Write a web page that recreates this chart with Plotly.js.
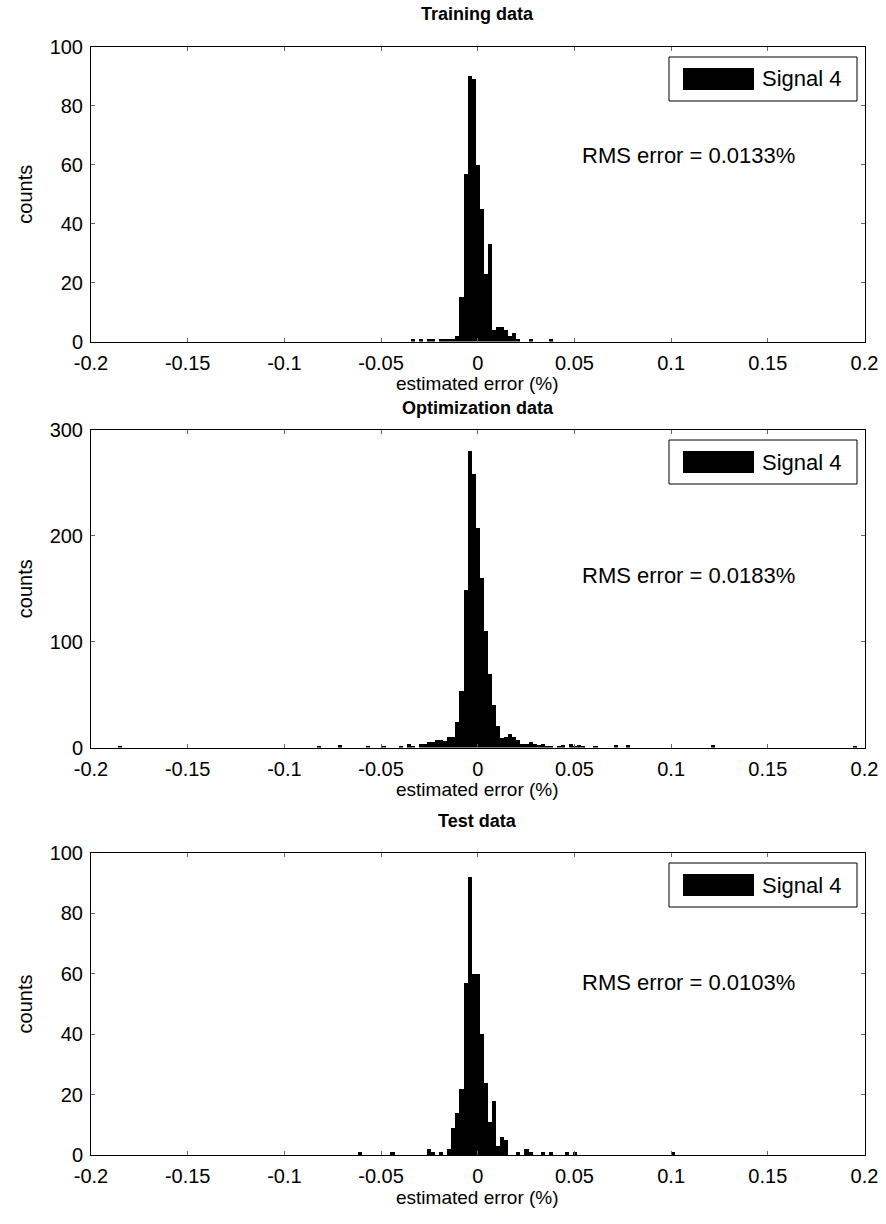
<!DOCTYPE html>
<html>
<head>
<meta charset="utf-8">
<script src="https://cdn.plot.ly/plotly-3.0.1.min.js"></script>
<style>html,body{margin:0;padding:0;background:#fff;}#chart{width:886px;height:1224px;}</style>
</head>
<body>
<div id="chart"></div>
<script>
// ---- data ----
const panelTitles = ["Training data", "Optimization data", "Test data"];
const rmsTexts = ["RMS error = 0.0133%", "RMS error = 0.0183%", "RMS error = 0.0103%"];
const seriesName = "Signal 4";
const xTitle = "estimated error (%)";
const yTitle = "counts";

const xTickVals = [-0.2, -0.15, -0.1, -0.05, 0, 0.05, 0.1, 0.15, 0.2];
const xTickText = ["-0.2", "-0.15", "-0.1", "-0.05", "0", "0.05", "0.1", "0.15", "0.2"];
const yTickVals1 = [0, 20, 40, 60, 80, 100];
const yTickVals2 = [0, 100, 200, 300];
const yTickVals3 = [0, 20, 40, 60, 80, 100];

// Training data histogram: bin centres (%) and counts
const trainCenters = [-0.0336, -0.0294, -0.0252, -0.0231, -0.0189, -0.0168, -0.0147, -0.0126, -0.0105,
  -0.0084, -0.0063, -0.0042, -0.0021, 0.0, 0.0021, 0.0042, 0.0063, 0.0084, 0.0105, 0.0126, 0.0147,
  0.0168, 0.0189, 0.0210, 0.0273, 0.0378];
const trainCounts = [1, 1, 1, 1, 1, 1, 1, 1, 2,
  15, 57, 90, 89, 60, 45, 23, 33, 4, 5, 5, 4,
  2, 3, 1, 1, 1];

// Optimization data histogram
const optCenters = [-0.1848, -0.0819, -0.0714, -0.0567, -0.0483, -0.0399, -0.0357, -0.0336, -0.0294, -0.0273,
  -0.0252, -0.0231, -0.0210, -0.0189, -0.0168, -0.0147, -0.0126, -0.0105, -0.0084, -0.0063, -0.0042,
  -0.0021, 0.0, 0.0021, 0.0042, 0.0063, 0.0084, 0.0105, 0.0126, 0.0147, 0.0168, 0.0189, 0.0210,
  0.0231, 0.0252, 0.0273, 0.0294, 0.0315, 0.0336, 0.0357, 0.0378, 0.0420, 0.0441, 0.0483, 0.0504,
  0.0525, 0.0546, 0.0609, 0.0714, 0.0777, 0.1218, 0.1953];
const optCounts = [1, 1, 2, 1, 1, 1, 3, 1, 3, 3,
  5, 5, 7, 7, 6, 10, 10, 24, 53, 149, 280,
  258, 207, 160, 110, 69, 40, 20, 9, 10, 13, 10, 7,
  3, 3, 5, 3, 2, 3, 1, 1, 1, 2, 3, 1,
  2, 1, 1, 2, 2, 2, 1];

// Test data histogram
const testCenters = [-0.0609, -0.0441, -0.0252, -0.0231, -0.0189, -0.0147, -0.0126, -0.0105, -0.0084,
  -0.0063, -0.0042, -0.0021, 0.0, 0.0021, 0.0042, 0.0063, 0.0084, 0.0105, 0.0126, 0.0147,
  0.0210, 0.0252, 0.0273, 0.0336, 0.0378, 0.0462, 0.0504, 0.1008];
const testCounts = [1, 1, 2, 1, 1, 2, 9, 14, 22,
  57, 92, 60, 60, 40, 24, 11, 18, 3, 6, 5,
  1, 2, 1, 1, 1, 1, 1, 1];

// ---- style / layout ----
const FONT = "Liberation Sans, Arial, Helvetica, sans-serif";
const W = 886, H = 1224;
const plotLeft = 91, plotRight = 864.5;
const panels = [
  {top: 47, bottom: 341.5, ymax: 100, ticks: yTickVals1, rmsFrac: 0.633, titleY: 14, x: trainCenters, y: trainCounts},
  {top: 430, bottom: 747.5, ymax: 300, ticks: yTickVals2, rmsFrac: 0.543, titleY: 408, x: optCenters, y: optCounts},
  {top: 853, bottom: 1155, ymax: 100, ticks: yTickVals3, rmsFrac: 0.57, titleY: 821, x: testCenters, y: testCounts}
];
const BIN_W = 0.0021;
const py = v => 1 - v / H;   // pixel row -> paper fraction

const data = [];
const layout = {
  width: W, height: H,
  margin: {l: 0, r: 0, t: 0, b: 0},
  paper_bgcolor: "#fff", plot_bgcolor: "#fff",
  showlegend: false,
  bargap: 0,
  font: {family: FONT, size: 20, color: "#000"},
  annotations: [], shapes: []
};
const xd = [plotLeft / W, plotRight / W];
const xMid = (xd[0] + xd[1]) / 2;

panels.forEach((p, i) => {
  const n = i === 0 ? "" : String(i + 1);
  const xa = "x" + n, ya = "y" + n;
  data.push({
    type: "bar", x: p.x, y: p.y, xaxis: xa, yaxis: ya, name: seriesName,
    width: BIN_W, marker: {color: "#000", line: {width: 0}}, hoverinfo: "x+y"
  });
  const dom = [py(p.bottom), py(p.top)];
  layout["xaxis" + n] = {
    domain: xd, anchor: ya, range: [-0.2, 0.2],
    tickmode: "array", tickvals: xTickVals, ticktext: xTickText,
    ticks: "inside", ticklen: 4, tickcolor: "#666", ticklabelstandoff: 3,
    showline: true, linecolor: "#000", linewidth: 1, mirror: "ticks",
    showgrid: false, zeroline: false,
    tickfont: {family: FONT, size: 20, color: "#000"}
  };
  layout["yaxis" + n] = {
    domain: dom, anchor: xa, range: [0, p.ymax],
    tickmode: "array", tickvals: p.ticks,
    ticks: "inside", ticklen: 4, tickcolor: "#666", ticklabelstandoff: 3,
    showline: true, linecolor: "#000", linewidth: 1, mirror: "ticks",
    showgrid: false, zeroline: false,
    tickfont: {family: FONT, size: 20, color: "#000"},
    title: {text: yTitle, font: {family: FONT, size: 20, color: "#000"}, standoff: 11}
  };
  // x-axis title
  layout.annotations.push({
    xref: "paper", yref: "paper", x: xMid, y: py(p.bottom + 42),
    xanchor: "center", yanchor: "middle", showarrow: false,
    text: xTitle, font: {family: FONT, size: 19, color: "#000"}
  });
  // panel title
  layout.annotations.push({
    xref: "paper", yref: "paper", x: xMid, y: py(p.titleY),
    xanchor: "center", yanchor: "middle", showarrow: false,
    text: "<b>" + panelTitles[i] + "</b>", font: {family: FONT, size: 18, color: "#000"}
  });
  // RMS text
  layout.annotations.push({
    xref: xa, yref: ya + " domain", x: 0.109, y: p.rmsFrac,
    xanchor: "center", yanchor: "middle", showarrow: false,
    text: rmsTexts[i], font: {family: FONT, size: 22, color: "#000"}
  });
  // legend box (drawn in paper coords)
  layout.shapes.push({
    type: "rect", xref: "paper", yref: "paper",
    x0: 669 / W, x1: 857 / W, y0: py(p.top + 54), y1: py(p.top + 10),
    line: {color: "#000", width: 1}, fillcolor: "#fff", layer: "above"
  });
  layout.shapes.push({
    type: "rect", xref: "paper", yref: "paper",
    x0: 683 / W, x1: 754 / W, y0: py(p.top + 43), y1: py(p.top + 21),
    line: {color: "#000", width: 0}, fillcolor: "#000", layer: "above"
  });
  layout.annotations.push({
    xref: "paper", yref: "paper", x: 760 / W, y: py(p.top + 32),
    xanchor: "left", yanchor: "middle", showarrow: false,
    text: seriesName, font: {family: FONT, size: 22, color: "#000"}
  });
});

Plotly.newPlot("chart", data, layout, {staticPlot: true, displayModeBar: false});
</script>
</body>
</html>
